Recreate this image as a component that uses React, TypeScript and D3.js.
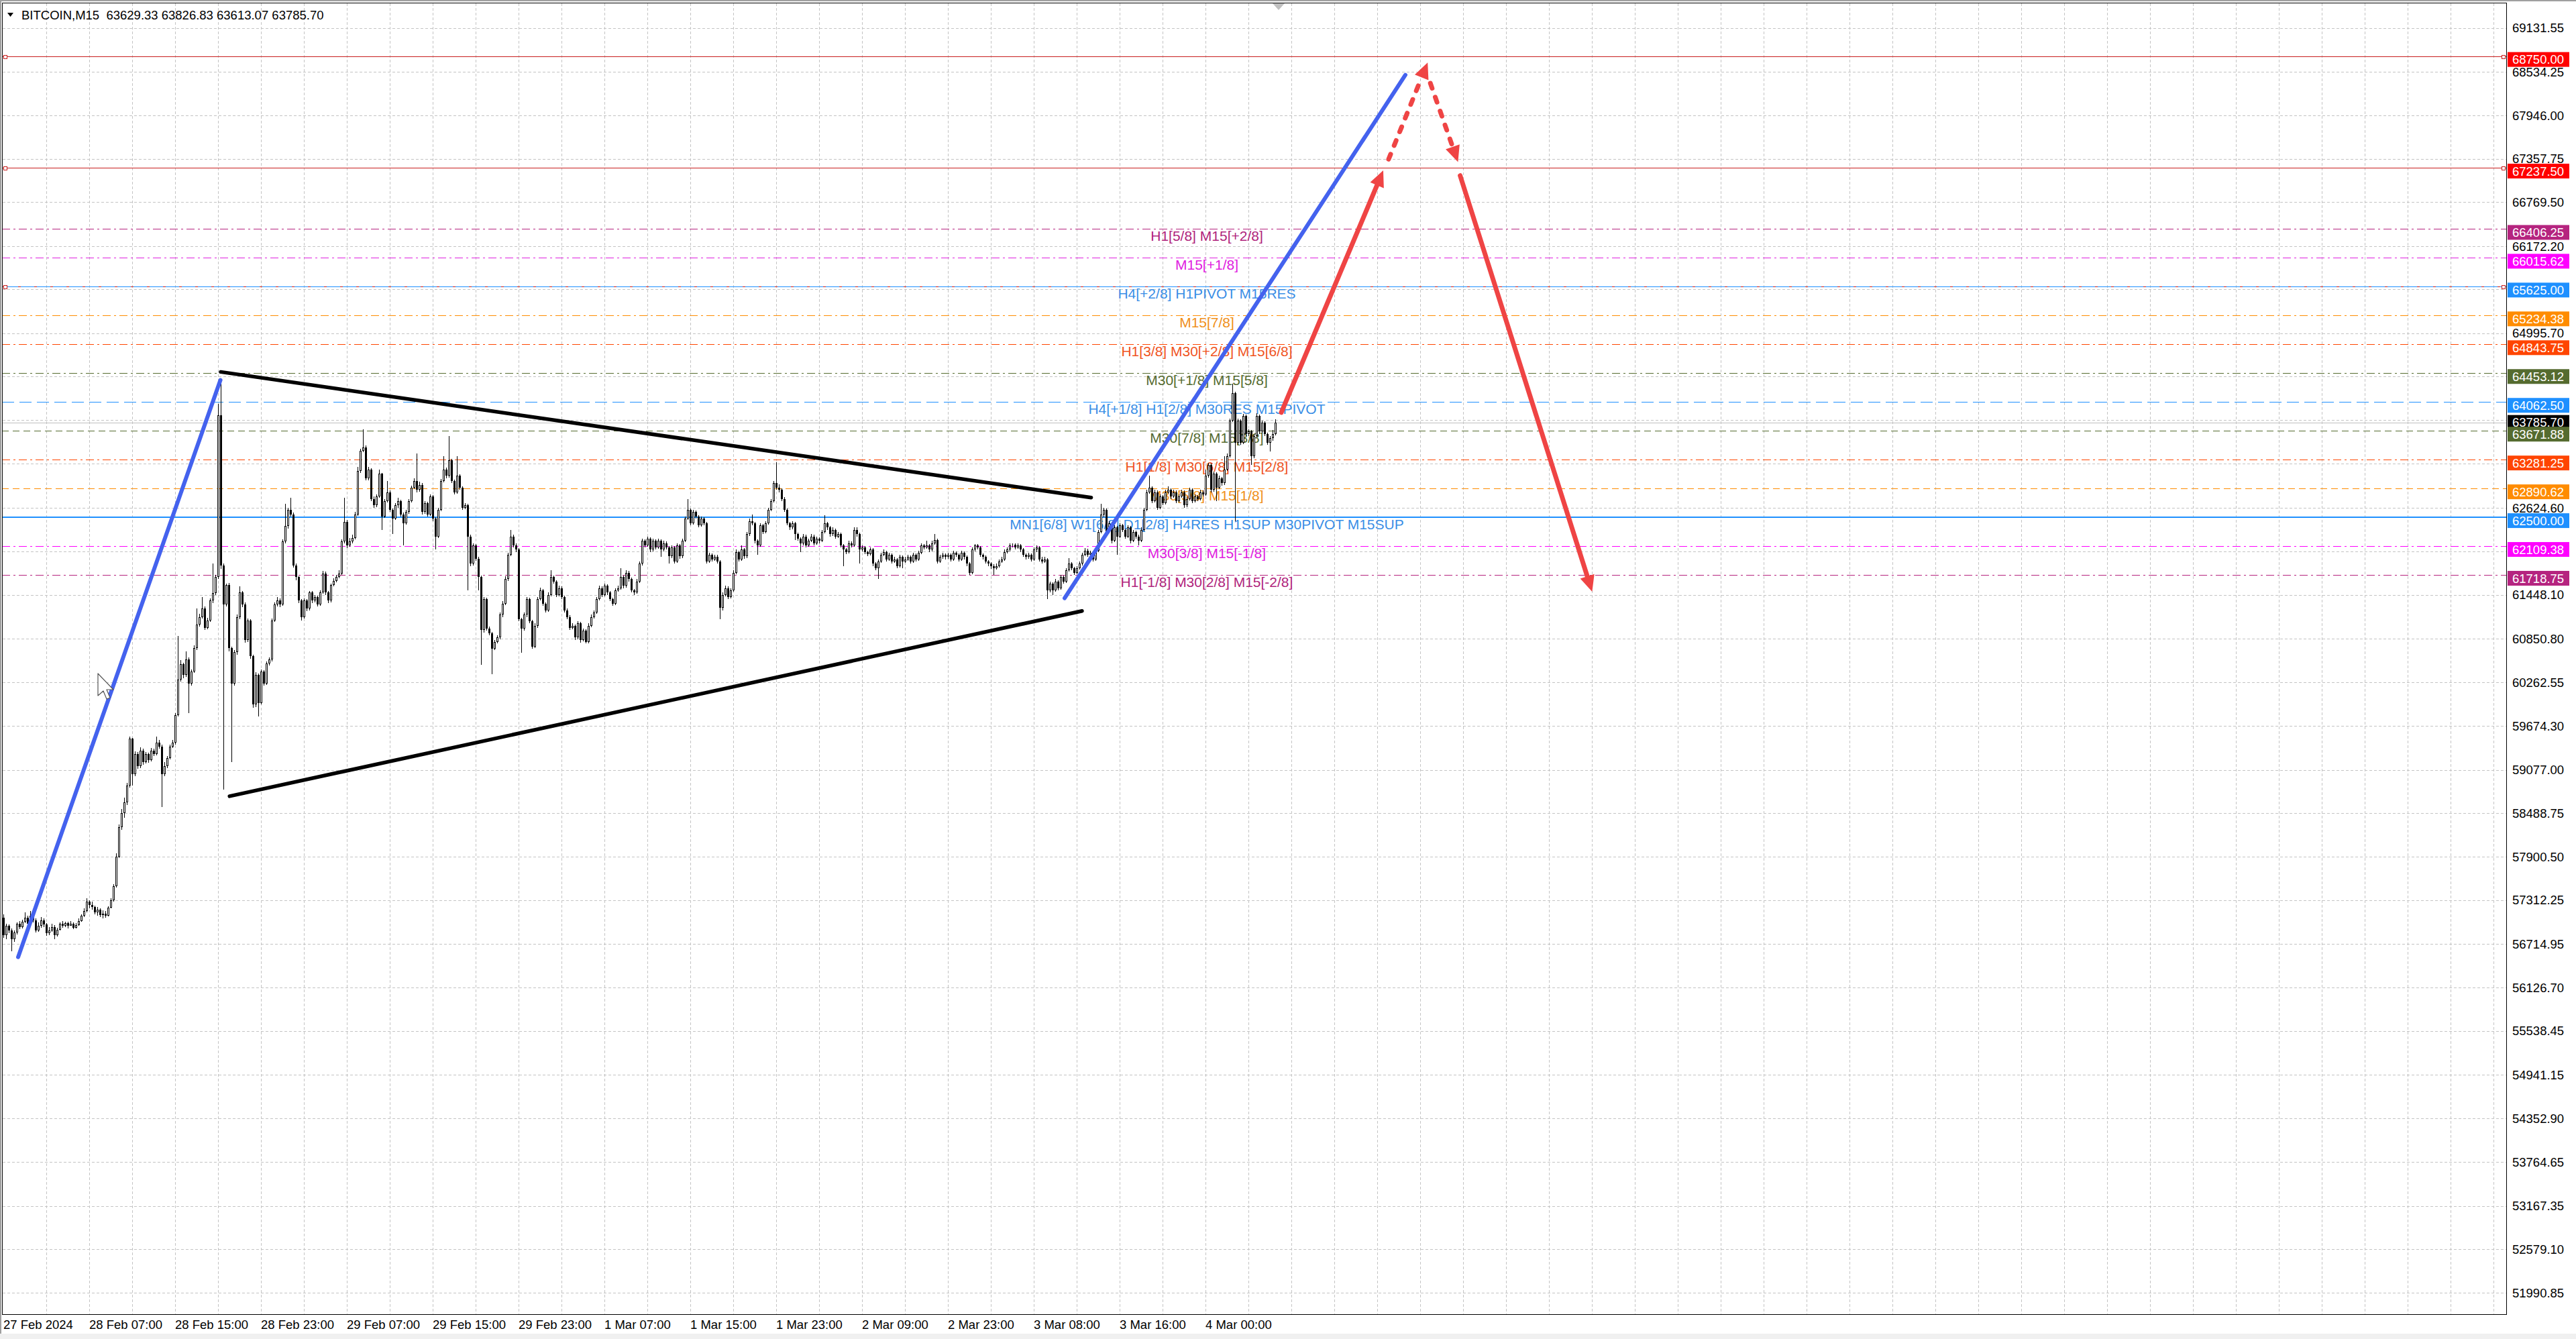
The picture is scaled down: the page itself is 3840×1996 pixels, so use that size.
import React from "react";
import * as d3 from "d3";

// ---- chart size (photographed page) ----
const W = 3840;
const H = 1996;
const FONT = "'Liberation Sans', Arial, sans-serif";

// ---- header ----
const symbolTitle = "BITCOIN,M15  63629.33 63826.83 63613.07 63785.70";

// ---- M15 candles (open = previous close) ----
const firstOpen = 57074;
const closes = [
  56840, 56960, 56900, 56780, 56870, 56990, 56950, 57020, 57070, 56990,
  57100, 57040, 56900, 56960, 57040, 56980, 56860, 56900, 56950, 56840,
  56910, 56990, 56960, 57000, 56960, 56990, 56940, 56970, 57030, 57100,
  57160, 57290, 57250, 57220, 57150, 57180, 57110, 57130, 57100, 57210,
  57310, 57500, 57900, 58300, 58490, 58640, 58860, 59500, 59020, 59290,
  59130, 59340, 59180, 59290, 59210, 59340, 59290, 59450, 59390, 59020,
  59130, 59240, 59390, 59450, 59820, 60300, 60510, 60360, 60570, 60250,
  60410, 60730, 61050, 61150, 61260, 61000, 61100, 61370, 61470, 61690,
  63880, 61850, 61320, 61580, 60730, 60250, 60670, 61150, 61480, 61320,
  60840, 61100, 60620, 59960, 60360, 59980, 60410, 60250, 60520, 60570,
  61100, 61320, 61370, 61320, 62170, 62380, 62600, 62540, 61850, 61690,
  61370, 61150, 61370, 61260, 61480, 61370, 61420, 61320, 61480, 61740,
  61480, 61370, 61580, 61640, 61690, 61740, 62170, 62440, 62120, 62170,
  62220, 62540, 63130, 63400, 63450, 63030, 63150, 62750, 62660, 62780,
  63090, 62510, 62720, 62840, 62600, 62480, 62660, 62720, 62540, 62420,
  62570, 62720, 62900, 62990, 62870, 62940, 62570, 62690, 62540, 62780,
  62480, 62240, 62600, 62990, 63150, 63060, 63270, 62990, 62840, 63060,
  62900, 62630, 62660, 62240, 61870, 62120, 61940, 61690, 60970, 61390,
  60990, 60930, 60720, 60810, 60870, 61180, 61330, 61660, 61990, 62240,
  62120, 62060, 61120, 60990, 61180, 61390, 61090, 60750, 61030, 61390,
  61510, 61330, 61240, 61450, 61690, 61630, 61450, 61540, 61420, 61240,
  61150, 61000, 61030, 60870, 61060, 60840, 60960, 60810, 61030, 61150,
  61210, 61390, 61540, 61450, 61570, 61480, 61390, 61330, 61510, 61540,
  61690, 61570, 61750, 61660, 61510, 61480, 61630, 61870, 62180, 62120,
  62210, 62060, 62180, 62090, 62180, 62060, 62150, 62090, 61970, 62090,
  61900, 62120, 61970, 62180, 62480, 62600, 62420, 62570, 62510, 62390,
  62480, 62420, 61900, 61990, 61930, 61960, 61900, 61270, 61450, 61540,
  61420, 61510, 61750, 62030, 61930, 62060, 61970, 62270, 62450, 62420,
  62180, 62120, 62390, 62300, 62420, 62600, 62720, 62960, 62900, 62870,
  62750, 62600, 62420, 62360, 62420, 62270, 62210, 62150, 62240, 62120,
  62180, 62240, 62150, 62210, 62180, 62300, 62420, 62360, 62270, 62330,
  62240, 62270, 62120, 62060, 62030, 62150, 62120, 62330, 62270, 62060,
  62090, 62030, 62000, 62060, 61870, 61810, 61900, 61990, 62030, 61930,
  61990, 61900, 61930, 61840, 61960, 61900, 61930, 61960, 61900, 61990,
  61930, 62020, 62120, 62090, 62120, 62060, 62150, 62190, 61900, 61960,
  61990, 61960, 61990, 61930, 62020, 61990, 61930, 62020, 61960, 61870,
  61750, 62060, 62120, 62090, 61990, 61960, 61900, 61870, 61840, 61810,
  61840, 61900, 61930, 62030, 62060, 62120, 62130, 62090, 62120, 62060,
  61990, 61960, 61990, 61930, 62060, 62090, 61930, 61900, 61930, 61510,
  61600, 61510, 61630, 61540, 61690, 61630, 61780, 61870, 61810, 61750,
  61810, 61870, 61990, 62050, 61990, 62020, 61930, 62050, 62300, 62540,
  62600, 62300, 62420, 62180, 62360, 62240, 62390, 62330, 62240, 62360,
  62180, 62300, 62240, 62180, 62330, 62600, 62840, 62900, 62720, 62840,
  62630, 62780, 62690, 62840, 62870, 62780, 62840, 62720, 62780, 62840,
  62660, 62750, 62870, 62720, 62780, 62750, 62840, 62810, 63060, 63210,
  62870, 63090, 62900, 63030, 62960, 63150, 63330, 63810, 64180, 63510,
  63810, 63510, 63870, 63630, 63660, 63330, 63600, 63870, 63660, 63780,
  63630, 63510, 63570, 63629.33, 63785.7,
];
const highs = [
  57120, 56990, 56980, 56930, 56900, 57010, 57030, 57050, 57150, 57100,
  57160, 57120, 57060, 57010, 57080, 57060, 57000, 56950, 56990, 56970,
  56940, 57010, 57030, 57020, 57020, 57030, 57010, 57000, 57060, 57120,
  57200, 57340, 57310, 57290, 57240, 57220, 57200, 57170, 57160, 57230,
  57340, 57530, 57950, 58340, 58550, 58700, 58900, 59530, 59510, 59330,
  59320, 59380, 59360, 59320, 59310, 59370, 59360, 59530, 59480, 59420,
  59180, 59260, 59420, 59480, 59850, 60890, 60560, 60530, 60680, 60600,
  60440, 60760, 61260, 61190, 61420, 61290, 61140, 61400, 61875, 61720,
  64040, 64360, 61870, 61600, 61610, 60750, 60700, 61180, 61560, 61500,
  61350, 61130, 61120, 60640, 60400, 60380, 60440, 60430, 60550, 60600,
  61130, 61350, 61420, 61400, 62200, 62680, 62630, 62760, 62560, 61870,
  61700, 61390, 61400, 61390, 61500, 61500, 61450, 61440, 61510, 61770,
  61760, 61500, 61600, 61670, 61720, 61780, 62200, 62760, 62460, 62220,
  62260, 62570, 63180, 63430, 63690, 63470, 63180, 63160, 62780, 62810,
  63150, 63100, 62750, 62990, 62860, 62620, 62690, 62760, 62740, 62560,
  62600, 62750, 62930, 63030, 63360, 62980, 62960, 62720, 62710, 62810,
  62800, 62500, 62630, 63020, 63330, 63170, 63600, 63290, 63010, 63330,
  63080, 62920, 62690, 62680, 62260, 62150, 62140, 61960, 61710, 61420,
  61410, 61020, 60950, 60840, 60900, 61210, 61360, 61700, 62020, 62330,
  62260, 62150, 62080, 61140, 61210, 61420, 61410, 61110, 61060, 61420,
  61550, 61530, 61350, 61480, 61780, 61710, 61650, 61570, 61560, 61440,
  61260, 61170, 61060, 61050, 61090, 61080, 60990, 60980, 61060, 61180,
  61240, 61420, 61570, 61560, 61600, 61590, 61500, 61410, 61540, 61570,
  61810, 61710, 61780, 61770, 61680, 61530, 61660, 61900, 62210, 62200,
  62240, 62230, 62210, 62200, 62210, 62200, 62180, 62170, 62110, 62120,
  62110, 62150, 62140, 62210, 62510, 62750, 62620, 62600, 62590, 62530,
  62510, 62500, 62440, 62020, 62010, 61990, 61990, 61920, 61480, 61570,
  61560, 61540, 61780, 62060, 62050, 62120, 62080, 62300, 62480, 62540,
  62440, 62200, 62420, 62410, 62450, 62630, 62750, 62990, 63250, 62950,
  62890, 62770, 62620, 62440, 62450, 62440, 62290, 62230, 62270, 62260,
  62210, 62270, 62260, 62240, 62230, 62330, 62530, 62440, 62380, 62360,
  62350, 62300, 62290, 62140, 62080, 62180, 62170, 62360, 62360, 62290,
  62120, 62110, 62050, 62090, 62080, 61890, 61930, 62020, 62060, 62050,
  62020, 62010, 61960, 61950, 61990, 61980, 61960, 61990, 61980, 62020,
  62010, 62050, 62150, 62140, 62180, 62140, 62180, 62270, 62210, 61990,
  62020, 62010, 62020, 62010, 62050, 62040, 62010, 62050, 62040, 61980,
  61890, 62090, 62140, 62140, 62110, 62010, 61980, 61920, 61890, 61860,
  61870, 61930, 61960, 62060, 62090, 62150, 62150, 62150, 62150, 62140,
  62080, 62010, 62020, 62010, 62090, 62120, 62110, 61960, 61960, 61950,
  61630, 61620, 61660, 61650, 61720, 61710, 61810, 61950, 61890, 61830,
  61840, 61900, 62020, 62080, 62070, 62050, 62040, 62080, 62330, 62680,
  62630, 62620, 62450, 62440, 62390, 62380, 62420, 62410, 62350, 62390,
  62380, 62330, 62320, 62260, 62360, 62630, 62870, 63060, 62920, 62870,
  62860, 62810, 62800, 62870, 62920, 62890, 62870, 62860, 62810, 62870,
  62860, 62780, 62900, 62890, 62810, 62800, 62870, 62860, 63150, 63240,
  63230, 63120, 63110, 63060, 63050, 63330, 63360, 63840, 64310, 64200,
  63840, 63830, 63900, 63890, 63690, 63680, 63630, 63910, 63890, 63810,
  63800, 63650, 63600, 63680, 63826.83,
];
const lows = [
  56800, 56780, 56860, 56620, 56750, 56850, 56920, 56930, 57000, 56960,
  56980, 57010, 56870, 56880, 56940, 56950, 56830, 56840, 56880, 56780,
  56820, 56900, 56940, 56950, 56930, 56960, 56920, 56930, 56960, 57020,
  57080, 57150, 57200, 57180, 57120, 57100, 57080, 57060, 57070, 57090,
  57200, 57290, 57480, 57880, 58260, 58430, 58600, 58840, 58860, 58990,
  59090, 59100, 59150, 59160, 59170, 59190, 59260, 59270, 59360, 58570,
  58990, 59100, 59220, 59370, 59420, 59800, 60270, 60320, 60340, 59850,
  60220, 60390, 60700, 61020, 61130, 60970, 60980, 61080, 61340, 61450,
  61660, 61800, 58810, 61290, 60680, 59180, 60220, 60640, 61120, 61280,
  60800, 60810, 60580, 59920, 59930, 59800, 59960, 60220, 60230, 60490,
  60550, 61080, 61290, 61280, 61300, 62150, 62350, 62510, 61820, 61650,
  61340, 61100, 61130, 61230, 61240, 61340, 61350, 61290, 61300, 61460,
  61450, 61340, 61350, 61560, 61620, 61670, 61720, 62150, 62080, 62100,
  62150, 62200, 62520, 63100, 63380, 63000, 63000, 62720, 62630, 62640,
  62760, 62330, 62490, 62700, 62570, 62270, 62460, 62630, 62510, 62120,
  62400, 62550, 62700, 62880, 62840, 62850, 62540, 62550, 62510, 62520,
  62450, 62060, 62220, 62580, 62970, 63030, 63040, 62960, 62810, 62820,
  62870, 62600, 62610, 61510, 61840, 61850, 61910, 61510, 60500, 60940,
  60960, 60900, 60370, 60700, 60790, 60850, 61150, 61310, 61640, 61970,
  62090, 62030, 61090, 60660, 60960, 61150, 61060, 60720, 60730, 61000,
  61370, 61300, 61210, 61220, 61430, 61600, 61420, 61430, 61390, 61210,
  61120, 60970, 60980, 60840, 60850, 60800, 60820, 60790, 60790, 61010,
  61130, 61190, 61370, 61420, 61430, 61450, 61360, 61300, 61310, 61490,
  61520, 61540, 61550, 61630, 61480, 61450, 61460, 61610, 61850, 62090,
  62100, 62030, 62040, 62060, 62070, 61960, 62040, 62060, 61870, 61950,
  61870, 61880, 61940, 61950, 62160, 62460, 62390, 62400, 62480, 62360,
  62370, 62390, 61870, 61880, 61900, 61910, 61870, 61120, 61240, 61430,
  61390, 61400, 61490, 61730, 61900, 61910, 61940, 61950, 62250, 62390,
  62150, 61990, 62100, 62270, 62280, 62400, 62580, 62700, 62870, 62840,
  62720, 62570, 62390, 62330, 62340, 62190, 62180, 62030, 62120, 62090,
  62100, 62160, 62120, 62130, 62150, 62160, 62280, 62330, 62240, 62250,
  62210, 62220, 62090, 61840, 62000, 62010, 62090, 62100, 62240, 61870,
  62040, 62000, 61970, 61980, 61840, 61780, 61660, 61880, 61970, 61900,
  61910, 61870, 61880, 61810, 61820, 61810, 61880, 61910, 61870, 61880,
  61900, 61910, 62000, 62060, 62070, 62030, 62040, 62130, 61870, 61880,
  61940, 61930, 61940, 61900, 61910, 61960, 61900, 61910, 61930, 61840,
  61720, 61730, 62040, 62060, 61960, 61930, 61870, 61840, 61800, 61720,
  61790, 61820, 61880, 61910, 62010, 62040, 62090, 62060, 62070, 62030,
  61960, 61930, 61940, 61900, 61910, 62030, 61900, 61870, 61880, 61390,
  61480, 61450, 61490, 61510, 61520, 61600, 61610, 61760, 61780, 61720,
  61730, 61790, 61850, 61970, 61960, 61970, 61900, 61910, 62030, 62280,
  62500, 62270, 62280, 62150, 62160, 61990, 62220, 62300, 62210, 62220,
  62150, 62160, 62210, 62120, 62160, 62310, 62580, 62820, 62690, 62700,
  62600, 62610, 62660, 62670, 62820, 62750, 62760, 62690, 62700, 62760,
  62630, 62640, 62730, 62690, 62700, 62720, 62730, 62780, 62790, 63040,
  62840, 62850, 62720, 62880, 62930, 62940, 63130, 63310, 63790, 62450,
  63480, 63480, 63490, 63600, 63600, 63210, 63300, 63580, 63630, 63640,
  63600, 63480, 63390, 63540, 63613.07,
];

// ---- price axis ----
const priceTicks = [
  69131.55, 68534.25, 67946.0, 67357.75, 66769.5, 66172.2, 64995.7, 62624.6,
  61448.1, 60850.8, 60262.55, 59674.3, 59077.0, 58488.75, 57900.5, 57312.25,
  56714.95, 56126.7, 55538.45, 54941.15, 54352.9, 53764.65, 53167.35,
  52579.1, 51990.85,
];
// grid rows whose labels are hidden behind the level boxes
const hiddenTicks = [65590, 64406, 63819, 63225, 62036];
const lastPrice = 63785.7;

// ---- time axis (one label every 32 bars) ----
const timeLabels = [
  "27 Feb 2024", "28 Feb 07:00", "28 Feb 15:00", "28 Feb 23:00",
  "29 Feb 07:00", "29 Feb 15:00", "29 Feb 23:00", "1 Mar 07:00",
  "1 Mar 15:00", "1 Mar 23:00", "2 Mar 09:00", "2 Mar 23:00",
  "3 Mar 08:00", "3 Mar 16:00", "4 Mar 00:00",
];

// ---- horizontal levels ----
const levelPrices = [
  68750.0, 67237.5, 66406.25, 66015.62, 65625.0, 65234.38, 64843.75,
  64453.12, 64062.5, 63671.88, 63281.25, 62890.62, 62500.0, 62109.38, 61718.75,
];
const levelNames = [
  "", "", "H1[5/8] M15[+2/8]", "M15[+1/8]", "H4[+2/8] H1PIVOT M15RES",
  "M15[7/8]", "H1[3/8] M30[+2/8] M15[6/8]", "M30[+1/8] M15[5/8]",
  "H4[+1/8] H1[2/8] M30RES M15PIVOT", "M30[7/8] M15[3/8]",
  "H1[1/8] M30[6/8] M15[2/8]", "M30[5/8] M15[1/8]",
  "MN1[6/8] W1[6/8] D1[2/8] H4RES H1SUP M30PIVOT M15SUP",
  "M30[3/8] M15[-1/8]", "H1[-1/8] M30[2/8] M15[-2/8]",
];
const levelTextBar = 448.5;

// ---- drawn lines: [barFrom, priceFrom, barTo, priceTo] ----
const blueLines = [
  [5.5, 56540, 80.9, 64360],
  [395.5, 61404, 522.5, 68495],
];
const blackLines = [
  [81, 64470, 405.4, 62767],
  [84.3, 58720, 402, 61230],
];
const redArrows = [
  [476.25, 63920, 514.25, 67201],
  [516.25, 67353, 530.8, 68663],
  [531.8, 68383, 542.1, 67314],
  [542.9, 67131, 592.1, 61492],
];
const redArrowDashed = [false, true, true, false];

// ---- styles ----
const DD = "12,5,3,5";
const levelStyle = [
  { line: "#c81e1e", box: "#ff0000", dash: "", w: 1 },
  { line: "#c81e1e", box: "#ff0000", dash: "", w: 1 },
  { line: "#b5247f", box: "#b5247f", dash: DD, w: 1 },
  { line: "#e020e0", box: "#ff00ff", dash: DD, w: 1 },
  { line: "#1e90ff", box: "#1e90ff", dash: "", w: 1.5 },
  { line: "#ff8c00", box: "#ff8c00", dash: DD, w: 1 },
  { line: "#ff4500", box: "#ff4500", dash: DD, w: 1 },
  { line: "#556b2f", box: "#556b2f", dash: DD, w: 1 },
  { line: "#1e90ff", box: "#1e90ff", dash: "18,8", w: 1 },
  { line: "#556b2f", box: "#556b2f", dash: "10,6", w: 1 },
  { line: "#ff4500", box: "#ff4500", dash: DD, w: 1.5 },
  { line: "#ff8c00", box: "#ff8c00", dash: "10,6", w: 1 },
  { line: "#1e90ff", box: "#1e90ff", dash: "", w: 2 },
  { line: "#ff00ff", box: "#ff00ff", dash: DD, w: 1 },
  { line: "#b5247f", box: "#b5247f", dash: DD, w: 1 },
];
const levelTextColor = [
  "", "", "#b0247c", "#e020e0", "#3a8ee6", "#f0901a", "#f0541e", "#556b2f",
  "#3a8ee6", "#556b2f", "#f0541e", "#f0901a", "#3a8ee6", "#e020e0", "#b0247c",
];

const PLOT_L = 3;
const PLOT_R = 3736;
const PLOT_T = 4;
const PLOT_B = 1959;

const xScale = d3.scaleLinear().domain([0, 474]).range([5, 1901]);
const yScale = d3.scaleLinear().domain([51700, 69474]).range([PLOT_B, PLOT_T]);

function arrowHead(x1: number, y1: number, x2: number, y2: number) {
  const len = 24, half = 11;
  const dx = x2 - x1, dy = y2 - y1;
  const L = Math.hypot(dx, dy);
  const ux = dx / L, uy = dy / L;
  const bx = x2 - ux * len, by = y2 - uy * len;
  return {
    bx, by,
    pts: `${x2},${y2} ${bx - uy * half},${by + ux * half} ${bx + uy * half},${by - ux * half}`,
  };
}

const Candles = () => {
  const items = closes.map((c, i) => {
    const o = i === 0 ? firstOpen : closes[i - 1];
    const h = Math.max(highs[i], o, c);
    const l = Math.min(lows[i], o, c);
    const xc = Math.round(xScale(i));
    const yTop = Math.round(yScale(Math.max(o, c)));
    const yBot = Math.max(yTop + 1, Math.round(yScale(Math.min(o, c))));
    const bull = c >= o;
    return (
      <g key={i}>
        <line x1={xc + 0.5} x2={xc + 0.5} y1={Math.round(yScale(h))} y2={Math.round(yScale(l))} stroke="#000" strokeWidth={1} />
        <rect x={xc - 0.5} y={yTop + 0.5} width={2} height={Math.max(0, yBot - yTop - 1)}
          fill={bull ? "#fff" : "#000"} stroke="#000" strokeWidth={1} />
      </g>
    );
  });
  return <g shapeRendering="crispEdges">{items}</g>;
};

export default function App() {
  const vGrid = d3.range(16, 929, 16).map((i) => Math.round(xScale(i)) + 0.5);
  const hGrid = [...priceTicks, ...hiddenTicks].map((p) => Math.round(yScale(p)) + 0.5);

  return (
    <div style={{ width: W, height: H, background: "#fff" }}>
      <style>{"body{margin:0;overflow:hidden;background:#fff}"}</style>
      <svg width={W} height={H} style={{ display: "block", fontFamily: FONT }}>
        <rect x={0} y={0} width={W} height={H} fill="#fff" />
        <rect x={0} y={0} width={W} height={2} fill="#a0a0a0" />
        <rect x={0} y={0} width={2} height={H} fill="#a0a0a0" />
        <rect x={0} y={1988} width={W} height={8} fill="#f0f0f0" />

        {/* grid */}
        <g stroke="#c4c4c4" strokeWidth={1} strokeDasharray="4,3" shapeRendering="crispEdges">
          {vGrid.map((x, k) => (
            <line key={"v" + k} x1={x} x2={x} y1={PLOT_T + 1} y2={PLOT_B} />
          ))}
          {hGrid.map((y, k) => (
            <line key={"h" + k} x1={PLOT_L + 1} x2={PLOT_R} y1={y} y2={y} />
          ))}
        </g>

        {/* bid line */}
        <line x1={PLOT_L} x2={PLOT_R} y1={Math.round(yScale(lastPrice)) + 0.5} y2={Math.round(yScale(lastPrice)) + 0.5}
          stroke="#c0c0c0" strokeWidth={1} shapeRendering="crispEdges" />

        {/* level lines */}
        <g shapeRendering="crispEdges">
          {levelPrices.map((p, k) => {
            const s = levelStyle[k];
            const y = Math.round(yScale(p)) + (s.w === 2 ? 0 : 0.5);
            return (
              <g key={"l" + k}>
                <line x1={PLOT_L} x2={PLOT_R} y1={y} y2={y} stroke={s.line} strokeWidth={s.w}
                  strokeDasharray={s.dash || undefined} />
                {k === 4 && (
                  <line x1={PLOT_L} x2={PLOT_R} y1={y} y2={y} stroke="#c81e1e" strokeWidth={1.5} strokeDasharray="4,20" />
                )}
                {(k < 2 || k === 4) && (
                  <>
                    <rect x={PLOT_R - 6.5} y={y - 2.5} width={5} height={5} fill="#fff" stroke="#c81e1e" strokeWidth={1} />
                    <rect x={PLOT_L + 2.5} y={y - 2.5} width={5} height={5} fill="#fff" stroke="#c81e1e" strokeWidth={1} />
                  </>
                )}
              </g>
            );
          })}
        </g>

        {/* level captions */}
        <g fontSize={21} textAnchor="middle">
          {levelPrices.map((p, k) =>
            levelNames[k] ? (
              <text key={"t" + k} x={xScale(levelTextBar)} y={yScale(p) + 18} fill={levelTextColor[k]}>
                {levelNames[k]}
              </text>
            ) : null
          )}
        </g>

        <Candles />

        {/* trend lines */}
        <g strokeLinecap="round" fill="none">
          {blackLines.map((l, k) => (
            <line key={"b" + k} x1={xScale(l[0])} y1={yScale(l[1])} x2={xScale(l[2])} y2={yScale(l[3])}
              stroke="#000" strokeWidth={5.5} />
          ))}
          {blueLines.map((l, k) => (
            <line key={"u" + k} x1={xScale(l[0])} y1={yScale(l[1])} x2={xScale(l[2])} y2={yScale(l[3])}
              stroke="#4462ee" strokeWidth={6} />
          ))}
        </g>

        {/* red arrows */}
        <g>
          {redArrows.map((a, k) => {
            const x1 = xScale(a[0]), y1 = yScale(a[1]), x2 = xScale(a[2]), y2 = yScale(a[3]);
            const hd = arrowHead(x1, y1, x2, y2);
            return (
              <g key={"r" + k}>
                <line x1={x1} y1={y1} x2={hd.bx} y2={hd.by} stroke="#ef4444" strokeWidth={7}
                  strokeLinecap="round" strokeDasharray={redArrowDashed[k] ? "8,14" : undefined} />
                <polygon points={hd.pts} fill="#ef4444" />
              </g>
            );
          })}
        </g>

        {/* mouse pointer */}
        <polygon
          points="146,1004 146,1037 154,1030 159,1042 164,1040 159,1028 169,1028"
          fill="#fff" stroke="#555" strokeWidth={1.2} strokeLinejoin="round" />

        {/* shift marker */}
        <polygon points="1897,5 1915,5 1906,15" fill="#c0c0c0" />

        {/* frame */}
        <rect x={PLOT_L + 0.5} y={PLOT_T + 0.5} width={PLOT_R - PLOT_L} height={PLOT_B - PLOT_T}
          fill="none" stroke="#000" strokeWidth={1} shapeRendering="crispEdges" />

        {/* price axis */}
        <g fontSize={18.5} fill="#000">
          {priceTicks.map((p, k) => (
            <text key={"pt" + k} x={3745} y={yScale(p)} dy="0.36em">{p.toFixed(2)}</text>
          ))}
        </g>
        <g fontSize={18.5}>
          <rect x={3738} y={yScale(lastPrice) - 11} width={92} height={22} fill="#000" />
          <text x={3745} y={yScale(lastPrice)} dy="0.36em" fill="#fff">{lastPrice.toFixed(2)}</text>
          {levelPrices.map((p, k) => (
            <g key={"bx" + k}>
              <rect x={3738} y={yScale(p) - 6} width={92} height={22} fill={levelStyle[k].box} />
              <text x={3745} y={yScale(p) + 5} dy="0.36em" fill="#fff">{p.toFixed(2)}</text>
            </g>
          ))}
        </g>

        {/* time axis */}
        <g fontSize={18.5} fill="#000">
          {timeLabels.map((t, k) => (
            <text key={"tl" + k} x={xScale(k * 32)} y={1981}>{t}</text>
          ))}
        </g>

        {/* header */}
        <polygon points="11,19 20,19 15.5,25" fill="#000" />
        <text x={32} y={29} fontSize={18.5} fill="#000" style={{ whiteSpace: "pre" }}>{symbolTitle}</text>
      </svg>
    </div>
  );
}
